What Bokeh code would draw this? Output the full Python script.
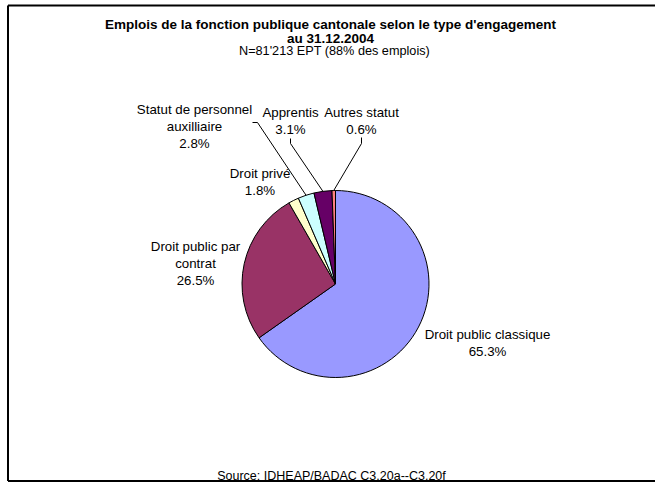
import math
from bokeh.plotting import figure
from bokeh.models import Range1d, ColumnDataSource
from bokeh.core.properties import value
from bokeh.embed import file_html
from bokeh.resources import INLINE

# ---------------- data ----------------
categories = ["Droit public classique", "Droit public par contrat", "Droit privé",
              "Statut de personnel auxilliaire", "Apprentis", "Autres statut"]
shares = [65.3, 26.5, 1.8, 2.8, 3.1, 0.6]
label_lines = [["Droit public classique"], ["Droit public par", "contrat"], ["Droit privé"],
               ["Statut de personnel", "auxilliaire"], ["Apprentis"], ["Autres statut"]]
colors = ["#9999FF", "#993366", "#FFFFCC", "#CCFFFF", "#660066", "#FF8080"]

title_lines = ["Emplois de la fonction publique cantonale selon le type d'engagement",
               "au 31.12.2004"]
subtitle = "N=81'213 EPT (88% des emplois)"
source_note = "Source: IDHEAP/BADAC C3.20a--C3.20f"

# ---------------- layout (screen pixel based) ----------------
W, H = 655, 482
def X(sx): return sx
def Y(sy): return H - sy

FONT = value("Liberation Sans")
cx, cy, R = X(335), Y(283.5), 93.5
line_gap = 17

label_pos = [(487, 334), (195, 246), (259.5, 173), (194, 108.5), (290, 112), (361, 112)]
leader_start = {3: [(252, 122), (257, 122)], 4: [(290, 138), (290, 143)], 5: [(361, 137), (361, 143)]}

p = figure(width=W, height=H, x_range=Range1d(0, W), y_range=Range1d(0, H),
           output_backend="svg", toolbar_location=None, min_border=0,
           x_axis_type=None, y_axis_type=None, outline_line_color=None,
           background_fill_color="white", border_fill_color="white")
p.grid.visible = False

# border (left, top, bottom)
p.line([X(7.5), X(7.5)], [Y(5), Y(480.5)], line_color="black", line_width=2)
p.line([X(7.5), X(660)], [Y(5), Y(5)], line_color="black", line_width=2)
p.line([X(7.5), X(660)], [Y(480.5), Y(480.5)], line_color="black", line_width=2)

# pie
total = sum(shares)
starts, ends, mids = [], [], []
cum = 0.0
for v in shares:
    a0 = cum / total * 2 * math.pi
    cum += v
    a1 = cum / total * 2 * math.pi
    # clockwise from 12 o'clock
    starts.append(math.pi / 2 - a1)
    ends.append(math.pi / 2 - a0)
    mids.append((a0 + a1) / 2)

src = ColumnDataSource(dict(start=starts, end=ends, color=colors, cat=categories))
p.wedge(x=cx, y=cy, radius=R, start_angle="start", end_angle="end", direction="anticlock",
        fill_color="color", line_color="black", line_width=1, source=src)

# leader lines
for i, pts in leader_start.items():
    ex = cx + R * math.sin(mids[i])
    ey = cy + R * math.cos(mids[i])
    xs = [X(a) for a, b in pts] + [ex]
    ys = [Y(b) for a, b in pts] + [ey]
    p.line(xs, ys, line_color="black", line_width=1)

# labels
tx, ty, tt = [], [], []
for i, lines in enumerate(label_lines):
    sx, sy = label_pos[i]
    allines = lines + [f"{shares[i]:.1f}%"]
    for k, t in enumerate(allines):
        tx.append(X(sx)); ty.append(Y(sy + k * line_gap)); tt.append(t)
p.text(x=tx, y=ty, text=tt, text_font=FONT, text_font_size=value("13.3px"),
       text_align="center", text_baseline="alphabetic", text_color="black")

# title
p.text(x=[X(330)] * 2, y=[Y(24), Y(38)], text=title_lines, text_font=FONT,
       text_font_size=value("13.5px"), text_font_style="bold",
       text_align="center", text_baseline="alphabetic", text_color="black")
p.text(x=[X(334)], y=[Y(50.5)], text=[subtitle], text_font=FONT,
       text_font_size=value("12.7px"), text_align="center", text_baseline="alphabetic",
       text_color="black")
p.text(x=[X(331)], y=[Y(475)], text=[source_note], text_font=FONT,
       text_font_size=value("12.5px"), text_align="center", text_baseline="alphabetic",
       text_color="black")

open("out.html", "w").write(file_html(p, INLINE))
